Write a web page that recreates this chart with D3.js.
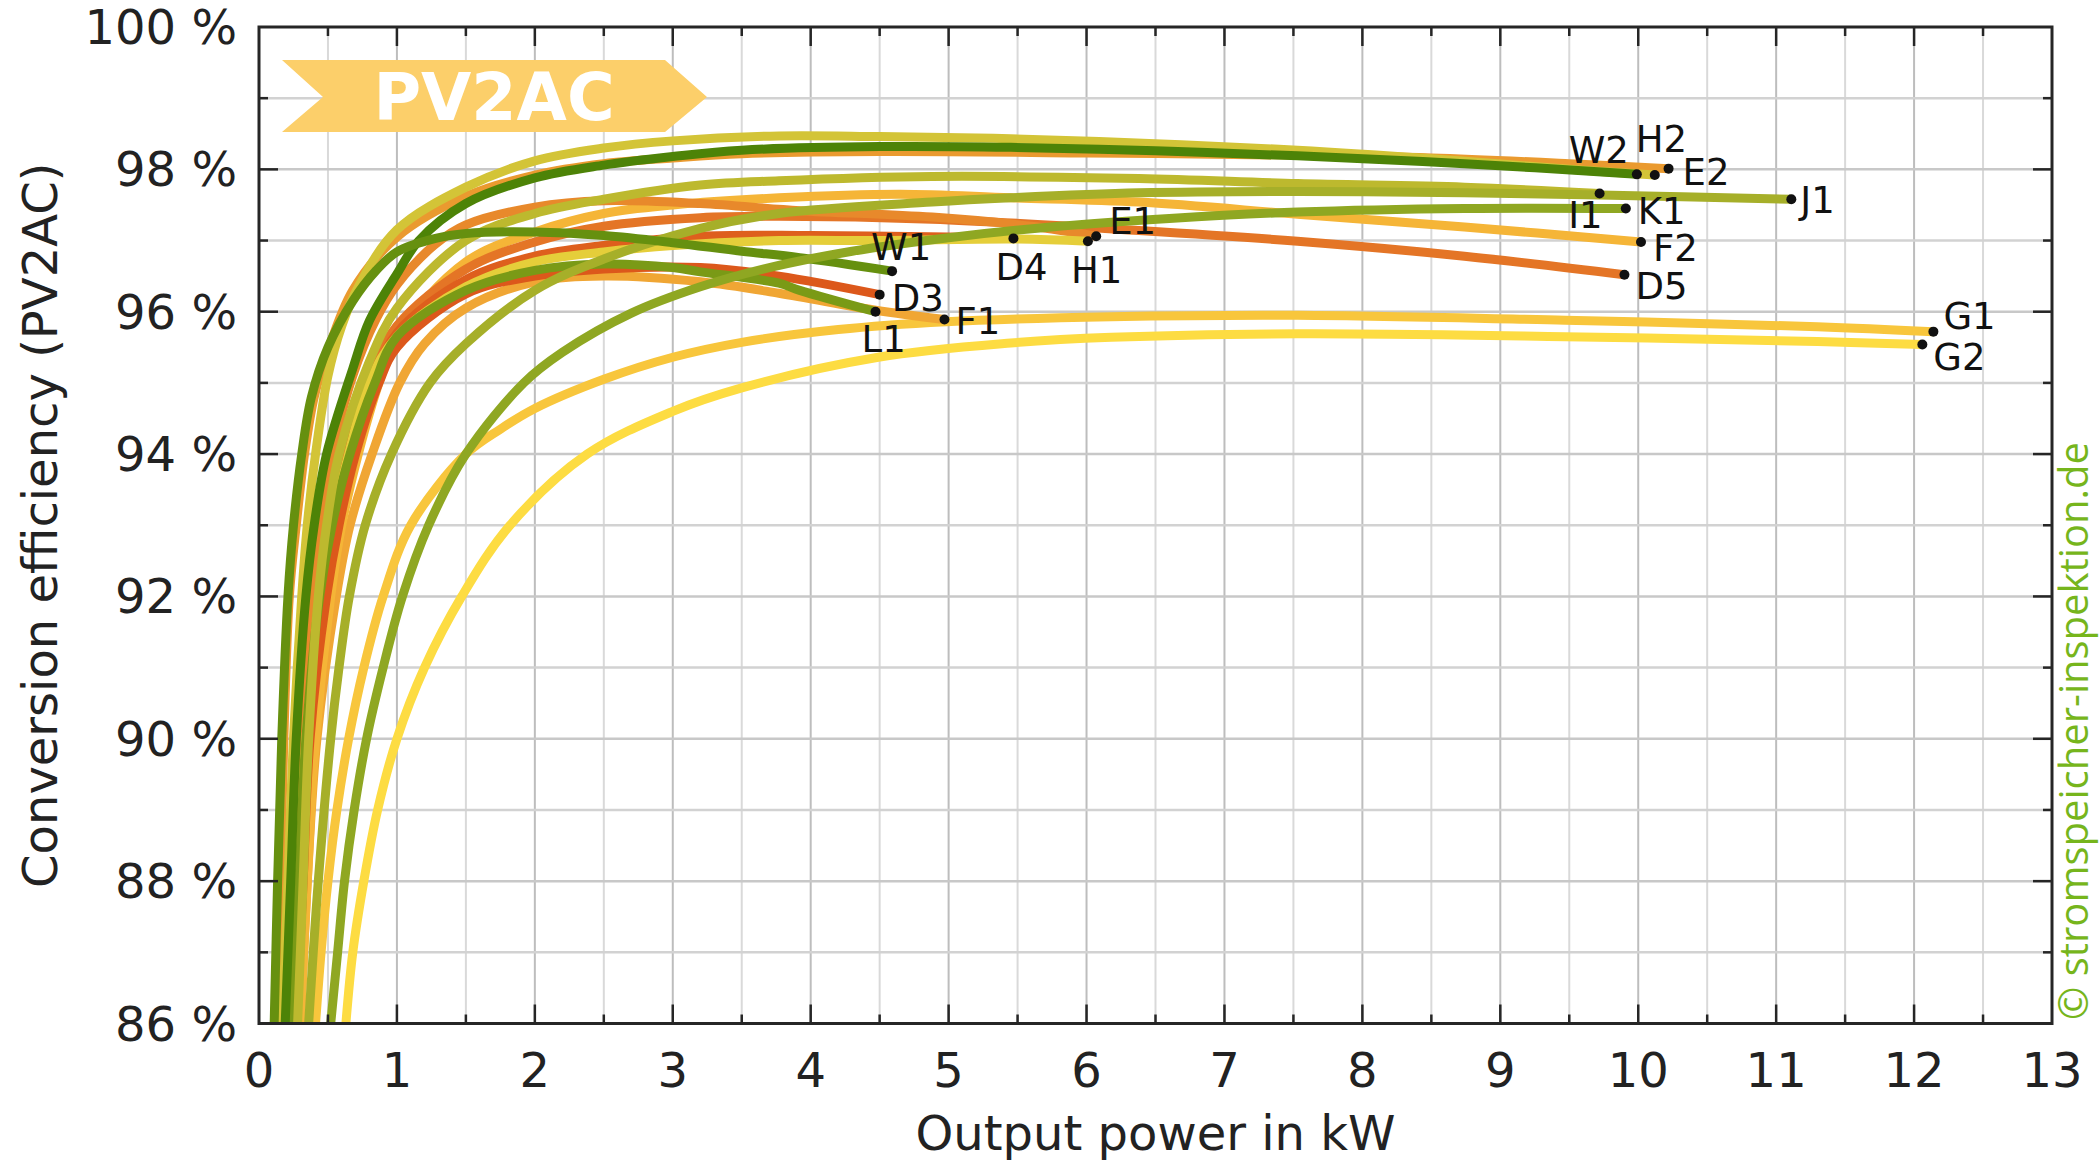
<!DOCTYPE html>
<html lang="de">
<head>
<meta charset="UTF-8">
<title>PV2AC Umwandlungswirkungsgrad</title>
<script src="https://d3js.org/d3.v7.min.js"></script>
<style>
  html, body { margin: 0; padding: 0; background: #fff; }
  text { font-family: "DejaVu Sans", Verdana, sans-serif; fill: #222; }
  .lbl { font-size: 37px; fill: #111; }
  .tick-lbl { font-size: 48px; }
</style>
</head>
<body>
<svg id="chart" width="2100" height="1161"></svg>
<script>
// ---- data: [output power kW, efficiency %] ----
const E2 = [[0.13,86],[0.155,88],[0.18,90],[0.22,92],[0.27,93],[0.33,94],[0.40,94.8],[0.5,95.45],[0.68,96.3],[1.0,97.05],[1.5,97.62],[2.0,97.92],[2.5,98.08],[3.0,98.16],[3.5,98.22],[4.5,98.25],[6.0,98.23],[7.5,98.2],[8.5,98.16],[9.5,98.08],[10.22,98.01]];
const H2 = [[0.17,86],[0.21,88],[0.25,90],[0.31,92],[0.35,93],[0.41,94],[0.5,95.1],[0.6,95.8],[0.72,96.35],[1.0,97.15],[1.5,97.75],[2.0,98.12],[2.5,98.3],[3.0,98.4],[3.77,98.47],[4.5,98.46],[5.45,98.43],[6.5,98.36],[7.53,98.27],[8.5,98.15],[9.5,98.0],[10.12,97.92]];
const W2 = [[0.19,86],[0.23,88],[0.27,90],[0.34,92],[0.40,93],[0.49,94],[0.68,95.2],[0.8,95.87],[1.0,96.53],[1.16,97.0],[1.5,97.52],[2.0,97.88],[2.5,98.06],[3.0,98.18],[3.5,98.27],[4.5,98.32],[5.45,98.31],[6.5,98.26],[7.53,98.19],[8.74,98.08],[9.99,97.93]];
const W1 = [[0.11,86],[0.135,88],[0.165,90],[0.21,92],[0.25,93],[0.31,94],[0.38,94.8],[0.5,95.5],[0.68,96.15],[0.85,96.58],[1.0,96.84],[1.28,97.03],[1.5,97.1],[2.0,97.12],[2.5,97.07],[3.0,96.97],[3.5,96.85],[3.92,96.76],[4.59,96.57]];
const I1 = [[0.28,86],[0.32,88],[0.36,90],[0.43,92],[0.49,93],[0.58,94],[0.8,95.3],[1.0,96.05],[1.5,97.0],[2.0,97.38],[2.5,97.58],[3.2,97.78],[3.77,97.84],[4.88,97.9],[6.38,97.87],[7.53,97.8],[8.74,97.75],[9.72,97.66]];
const J1 = [[0.36,86],[0.43,88],[0.52,90],[0.58,91],[0.655,92],[0.77,93],[0.96,94],[1.24,95.0],[1.5,95.55],[2.0,96.3],[2.5,96.74],[3.2,97.17],[3.77,97.38],[4.88,97.54],[5.45,97.6],[6.38,97.67],[7.53,97.69],[8.74,97.67],[9.72,97.64],[11.11,97.58]];
const K1 = [[0.52,86],[0.57,87],[0.62,88],[0.69,89],[0.78,90],[0.9,91],[1.04,92],[1.23,93],[1.5,94],[1.92,95],[2.2,95.43],[2.7,95.98],[3.2,96.35],[3.7,96.62],[4.3,96.85],[5.0,97.04],[5.8,97.2],[6.6,97.31],[7.53,97.4],[8.74,97.45],[9.91,97.45]];
const G1 = [[0.41,86],[0.45,87],[0.5,88],[0.565,89],[0.65,90],[0.76,91],[0.9,92],[1.1,93],[1.5,94.0],[1.75,94.35],[2.0,94.64],[2.5,95.05],[3.0,95.36],[3.5,95.57],[4.2,95.75],[4.98,95.86],[6.18,95.93],[7.53,95.95],[9.47,95.88],[11.3,95.79],[12.14,95.72]];
const G2 = [[0.63,86],[0.68,87],[0.76,88],[0.86,89],[1.0,90],[1.2,91],[1.47,92],[1.82,93],[2.38,94],[3.0,94.6],[3.5,94.93],[4.49,95.36],[5.45,95.56],[6.18,95.64],[7.53,95.69],[9.47,95.65],[11.3,95.58],[12.06,95.54]];
const F2 = [[0.3,86],[0.35,88],[0.41,90],[0.52,92],[0.6,93],[0.72,94],[0.87,95.0],[1.0,95.65],[1.5,96.7],[2.0,97.12],[2.5,97.38],[3.0,97.5],[3.77,97.6],[4.65,97.65],[5.45,97.6],[6.38,97.54],[7.53,97.37],[8.74,97.19],[10.02,96.98]];
const D5 = [[0.26,86],[0.3,88],[0.35,90],[0.45,92],[0.52,93],[0.62,94],[0.8,95.1],[1.0,95.8],[1.5,96.6],[2.0,96.98],[2.5,97.2],[3.2,97.32],[3.77,97.34],[4.88,97.3],[6.38,97.14],[7.53,96.99],[8.74,96.78],[9.9,96.52]];
const E1 = [[0.22,86],[0.27,88],[0.31,90],[0.38,92],[0.44,93],[0.53,94],[0.68,95.1],[0.85,95.9],[1.0,96.38],[1.28,96.95],[1.5,97.22],[2.0,97.47],[2.5,97.56],[3.2,97.52],[3.92,97.42],[4.88,97.33],[5.6,97.2],[6.07,97.06]];
const H1 = [[0.24,86],[0.29,88],[0.34,90],[0.45,92],[0.53,93],[0.65,94],[0.8,95.0],[1.0,95.65],[1.5,96.35],[2.0,96.7],[2.5,96.84],[3.0,96.93],[3.77,97.0],[4.5,97.0],[5.5,97.02],[6.01,96.99]];
const D4 = [[0.25,86],[0.3,88],[0.35,90],[0.46,92],[0.54,93],[0.66,94],[0.82,95.0],[1.0,95.7],[1.5,96.45],[2.0,96.78],[2.5,96.93],[3.2,97.06],[4.0,97.07],[5.0,97.05],[5.47,97.03]];
const D3 = [[0.27,86],[0.32,88],[0.37,90],[0.49,92],[0.58,93],[0.7,94],[0.87,95.0],[1.0,95.5],[1.5,96.25],[2.0,96.5],[2.5,96.6],[3.2,96.62],[3.77,96.5],[4.5,96.24]];
const L1 = [[0.24,86],[0.29,88],[0.34,90],[0.44,92],[0.53,93],[0.66,94],[0.84,95.0],[1.0,95.65],[1.5,96.3],[2.0,96.58],[2.5,96.67],[3.0,96.62],[3.2,96.56],[3.77,96.4],[3.92,96.3],[4.47,96.0]];
const F1 = [[0.3,86],[0.35,88],[0.42,90],[0.56,92],[0.66,93],[0.82,94],[1.02,95.0],[1.2,95.55],[1.5,96.05],[2.0,96.42],[2.5,96.5],[3.2,96.42],[3.77,96.26],[4.47,96.02],[4.97,95.89]];

const drawOrder = ["G2","G1","F1","F2","D5","E1","D4","H1","D3","L1","I1","E2","H2","J1","W2","W1","K1"];
const seriesData = {E2, H2, W2, W1, I1, J1, K1, G1, G2, F2, D5, E1, H1, D4, D3, L1, F1};

const xTicks = d3.range(0, 14, 1);
const yTicks = [86, 88, 90, 92, 94, 96, 98, 100];

// ---- styles ----
const colors = {
  E2: "#ea9a2f", H2: "#d3c437", W2: "#4d8307", W1: "#66900f", I1: "#bdb92e",
  J1: "#a6af29", K1: "#8fa722", G1: "#f8c63c", G2: "#fddc42", F2: "#f5b537",
  D5: "#e47526", E1: "#e8892b", H1: "#e5ce3a", D4: "#de5f1d", D3: "#dc581b",
  L1: "#7a9a16", F1: "#f0a634"
};
// label offset from end dot: [dx, dy, anchor]
const labelPos = {
  W2: [-8, -11, "end"], H2: [-19, -23, "start"], E2: [14, 16, "start"],
  I1: [3, 34, "end"], K1: [12, 15, "start"], J1: [9, 14, "start"],
  F2: [12, 19, "start"], D5: [11, 24, "start"], W1: [-21, -11, "start"],
  D3: [12, 16, "start"], L1: [-14, 40, "start"], F1: [11, 14, "start"],
  D4: [-18, 42, "start"], H1: [-17, 42, "start"], E1: [13, -2, "start"],
  G1: [10, -3, "start"], G2: [11, 26, "start"]
};

const svg = d3.select("#chart");
const pLeft = 259, pRight = 2052, pTop = 27, pBottom = 1023.5;

const x = d3.scaleLinear().domain([0, 13]).range([pLeft, pRight]);
const y = d3.scaleLinear().domain([86, 100]).range([pBottom, pTop]);

// grid
const grid = svg.append("g");
grid.selectAll("line.vg")
  .data(d3.range(0.5, 13, 0.5))
  .enter().append("line")
  .attr("x1", d => x(d)).attr("x2", d => x(d))
  .attr("y1", pTop).attr("y2", pBottom)
  .attr("stroke", d => d % 1 === 0 ? "#bdbdbd" : "#d9d9d9")
  .attr("stroke-width", 2);
grid.selectAll("line.hg")
  .data(d3.range(87, 100, 1))
  .enter().append("line")
  .attr("x1", pLeft).attr("x2", pRight)
  .attr("y1", d => y(d)).attr("y2", d => y(d))
  .attr("stroke", d => d % 2 === 0 ? "#c8c8c8" : "#d2d2d2")
  .attr("stroke-width", 2.5);

// banner
svg.append("polygon")
  .attr("points", "282,60 323,97 282,132 665,132 707,97 665,60")
  .attr("fill", "#fccf6a");
svg.append("text")
  .attr("x", 494).attr("y", 120)
  .attr("text-anchor", "middle")
  .style("font-size", "65px").style("font-weight", "bold").style("fill", "#fff")
  .text("PV2AC");

// curves
svg.append("clipPath").attr("id", "plotclip")
  .append("rect").attr("x", pLeft).attr("y", pTop)
  .attr("width", pRight - pLeft).attr("height", pBottom - pTop);

const line = d3.line()
  .x(d => x(d[0])).y(d => y(d[1]))
  .curve(d3.curveCatmullRom.alpha(0.5));

const curves = svg.append("g").attr("clip-path", "url(#plotclip)");
drawOrder.forEach(name => {
  curves.append("path")
    .datum(seriesData[name])
    .attr("d", line)
    .attr("fill", "none")
    .attr("stroke", colors[name])
    .attr("stroke-width", 9)
    .attr("stroke-linejoin", "round");
});

// end dots + labels
const ends = svg.append("g");
drawOrder.forEach(name => {
  const pts = seriesData[name];
  const p = pts[pts.length - 1];
  ends.append("circle")
    .attr("cx", x(p[0])).attr("cy", y(p[1])).attr("r", 5)
    .attr("fill", "#111");
  const lp = labelPos[name];
  ends.append("text")
    .attr("class", "lbl")
    .attr("x", x(p[0]) + lp[0]).attr("y", y(p[1]) + lp[1])
    .attr("text-anchor", lp[2])
    .text(name);
});

// frame
const frame = svg.append("g").attr("stroke", "#262626").attr("fill", "none");
frame.append("rect")
  .attr("x", pLeft).attr("y", pTop)
  .attr("width", pRight - pLeft).attr("height", pBottom - pTop)
  .attr("stroke-width", 3);

// ticks (inward on all four sides)
d3.range(0.5, 13, 0.5).forEach(v => {
  const len = v % 1 === 0 ? 19 : 9;
  frame.append("line").attr("x1", x(v)).attr("x2", x(v))
    .attr("y1", pBottom).attr("y2", pBottom - len).attr("stroke-width", 2.5);
  frame.append("line").attr("x1", x(v)).attr("x2", x(v))
    .attr("y1", pTop).attr("y2", pTop + len).attr("stroke-width", 2.5);
});
d3.range(87, 100, 1).forEach(v => {
  const len = v % 2 === 0 ? 19 : 9;
  frame.append("line").attr("x1", pLeft).attr("x2", pLeft + len)
    .attr("y1", y(v)).attr("y2", y(v)).attr("stroke-width", 2.5);
  frame.append("line").attr("x1", pRight).attr("x2", pRight - len)
    .attr("y1", y(v)).attr("y2", y(v)).attr("stroke-width", 2.5);
});

// tick labels
svg.append("g").selectAll("text")
  .data(xTicks).enter().append("text")
  .attr("class", "tick-lbl")
  .attr("x", d => x(d)).attr("y", 1087)
  .attr("text-anchor", "middle")
  .text(d => d);
svg.append("g").selectAll("text")
  .data(yTicks).enter().append("text")
  .attr("class", "tick-lbl")
  .attr("x", 237).attr("y", d => y(d) + 17)
  .attr("text-anchor", "end")
  .text(d => d + " %");

// axis titles
svg.append("text")
  .attr("x", (pLeft + pRight) / 2).attr("y", 1150)
  .attr("text-anchor", "middle")
  .style("font-size", "48px")
  .text("Output power in kW");
svg.append("text")
  .attr("transform", `translate(57,${(pTop + pBottom) / 2}) rotate(-90)`)
  .attr("text-anchor", "middle")
  .style("font-size", "48px")
  .text("Conversion efficiency (PV2AC)");

// watermark
svg.append("text")
  .attr("transform", "translate(2088,1020) rotate(-90)")
  .attr("text-anchor", "start")
  .style("font-family", "'Open Sans', sans-serif")
  .style("font-size", "40px")
  .style("fill", "#76b51c")
  .text("© stromspeicher-inspektion.de");
</script>
</body>
</html>
